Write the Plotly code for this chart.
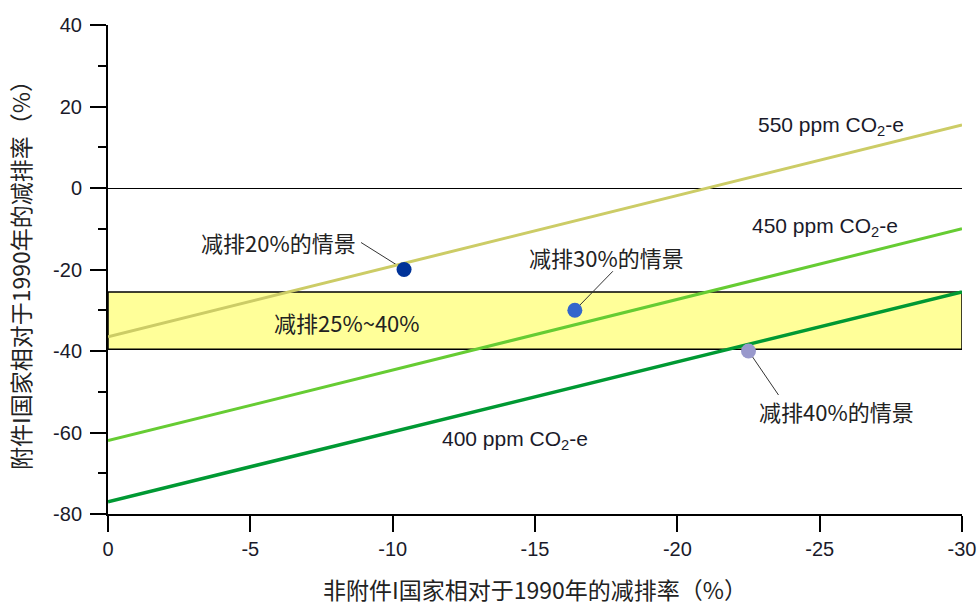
import plotly.graph_objects as go

# Data
x_ends = [0, -30]
line_550 = [-36.5, 15.5]
line_450 = [-62, -10]
line_400 = [-77, -25.5]

scen_x = [-10.4, -16.4, -22.5]
scen_y = [-20, -30, -40]
scen_colors = ["#003399", "#3366CC", "#9999CC"]
scen_labels = ["减排20%的情景", "减排30%的情景", "减排40%的情景"]
scen_label_x = [-6.0, -17.5, -25.6]
scen_label_y = [-13.3, -16.9, -54.7]

band_y = [-25.5, -39.6]
band_label = "减排25%~40%"
band_label_pos = [-8.4, -32.9]

ppm_labels = ["550 ppm CO<sub>2</sub>-e", "450 ppm CO<sub>2</sub>-e", "400 ppm CO<sub>2</sub>-e"]
ppm_label_x = [-25.4, -25.2, -14.3]
ppm_label_y = [15.2, -9.6, -61.8]

x_ticks = [0, -5, -10, -15, -20, -25, -30]
y_ticks = [-80, -60, -40, -20, 0, 20, 40]

fig = go.Figure()

line_colors = ["#CCCC66", "#66CC33", "#009933"]
line_widths = [3, 3, 3.5]
for ys, c, w in zip([line_550, line_450, line_400], line_colors, line_widths):
    fig.add_trace(go.Scatter(x=x_ends, y=ys, mode="lines",
                             line=dict(color=c, width=w), showlegend=False, hoverinfo="skip"))

fig.add_trace(go.Scatter(x=scen_x, y=scen_y, mode="markers",
                         marker=dict(color=scen_colors, size=15, line=dict(width=0)),
                         showlegend=False))

fig.add_shape(type="rect", xref="x", yref="y", x0=x_ends[0], x1=x_ends[1],
              y0=band_y[0], y1=band_y[1], fillcolor="#FFFF99",
              line=dict(color="black", width=1.5), layer="below")

cjk = "SimSun, Noto Sans CJK SC, sans-serif"
latin = "Liberation Sans, Arial, sans-serif"

for t, lx, ly in zip(scen_labels, scen_label_x, scen_label_y):
    fig.add_annotation(x=lx, y=ly, text=t, showarrow=False,
                       font=dict(family=cjk, size=22, color="#222222"))

# leader lines (pixel offsets from each scenario point)
leader_offsets = [(-43, 27), (38, 39), (30, -44)]
for sx, sy, (dx, dy) in zip(scen_x, scen_y, leader_offsets):
    fig.add_shape(type="line", xref="x", yref="y",
                  xsizemode="pixel", ysizemode="pixel", xanchor=sx, yanchor=sy,
                  x0=0, y0=0, x1=dx, y1=dy,
                  line=dict(color="#333333", width=1), layer="below")

fig.add_annotation(x=band_label_pos[0], y=band_label_pos[1], text=band_label, showarrow=False,
                   font=dict(family=cjk, size=22, color="#222222"))

for t, lx, ly in zip(ppm_labels, ppm_label_x, ppm_label_y):
    fig.add_annotation(x=lx, y=ly, text=t, showarrow=False,
                       font=dict(family=latin, size=21, color="#1a1a2a"))

fig.update_layout(
    width=977, height=606,
    margin=dict(l=108, r=15, t=25, b=92, autoexpand=False),
    plot_bgcolor="white", paper_bgcolor="white",
    xaxis=dict(range=[0, -30], tickvals=x_ticks, ticktext=[str(v) for v in x_ticks],
               automargin=False,
               showgrid=False, zeroline=False, showline=True, linecolor="black", linewidth=2,
               ticks="outside", ticklen=16, tickwidth=1.5, tickcolor="black",
               tickfont=dict(family=latin, size=20, color="#1a1a2a"),
               title=dict(text="非附件I国家相对于1990年的减排率（%）",
                          font=dict(family=cjk, size=23, color="#222222"), standoff=26)),
    yaxis=dict(range=[-80, 40], tickvals=y_ticks, ticktext=[str(v) for v in y_ticks],
               automargin=False,
               showgrid=False, zeroline=True, zerolinecolor="black", zerolinewidth=1,
               showline=True, linecolor="black", linewidth=2,
               ticks="outside", ticklen=16, tickwidth=1.5, tickcolor="black",
               ticklabelstandoff=4,
               minor=dict(dtick=10, ticks="outside", ticklen=8, tickwidth=1.5, tickcolor="black"),
               tickfont=dict(family=latin, size=20, color="#1a1a2a"),
               title=dict(text="附件I国家相对于1990年的减排率（%）",
                          font=dict(family=cjk, size=23, color="#222222"), standoff=16)),
)

fig.write_html("out.html", config={"displayModeBar": False},
               post_script="document.body.style.margin='0px';document.body.style.overflow='hidden';")
